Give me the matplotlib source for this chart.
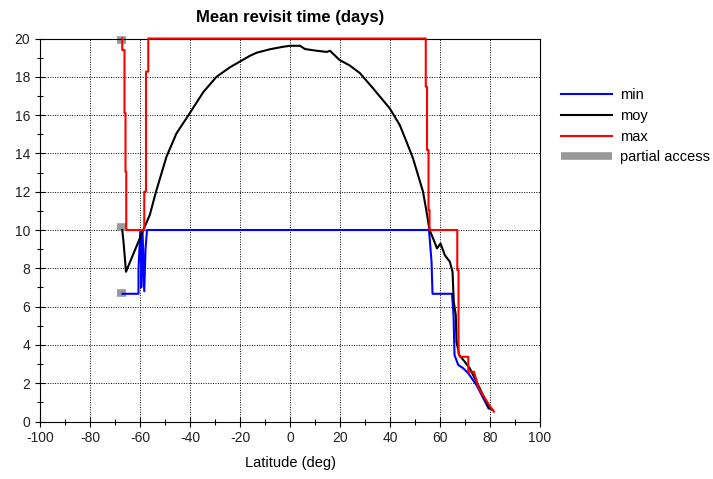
import matplotlib
matplotlib.use("Agg")
import matplotlib.pyplot as plt
from matplotlib.ticker import MultipleLocator

plt.rcParams['font.family'] = ['Liberation Sans', 'DejaVu Sans']
plt.rcParams['axes.unicode_minus'] = False

# max revisit time
lat_max = [-67.1, -67.1, -66.2, -66.2, -65.8, -65.8, -65.5, -65.5, -58.3, -58.3, -57.6, -57.6,
           -56.7, -56.7, 54.3, 54.3, 54.8, 54.8, 55.4, 55.4, 55.8, 55.8, 66.9, 66.9, 67.4, 67.4,
           68.0, 71.3, 71.3, 73.6, 75.5, 79.7, 81.6]
val_max = [20.0, 19.4, 19.4, 16.1, 16.1, 13.04, 13.04, 10.0, 10.0, 12.0, 12.0, 18.27,
           18.27, 20.0, 20.0, 17.48, 17.48, 14.18, 14.18, 11.04, 11.04, 10.0, 10.0, 7.91, 7.91, 3.56,
           3.38, 3.38, 2.6, 2.6, 1.73, 0.86, 0.51]

# min revisit time
lat_min = [-67.0, -60.6, -60.6, -60.0, -59.7, -59.5, -59.0, -58.3, -57.8, -57.2, 55.6, 56.6, 57.0,
           64.8, 65.4, 65.8, 67.3, 69.3, 71.3, 74.6, 79.4]
val_min = [6.67, 6.67, 8.0, 9.6, 10.0, 7.0, 10.0, 6.8, 9.0, 10.0, 10.0, 8.35, 6.67,
           6.67, 5.56, 3.47, 2.95, 2.78, 2.52, 1.9, 0.69]

# mean revisit time (moy)
lat_moy = [-67.1, -66.6, -65.6, -59.0, -56.1, -53.6, -49.4, -45.4, -40.1, -34.7, -29.4, -24.0,
           -20.0, -16.0, -13.3, -8.0, -2.7, 0.0, 4.0, 6.0, 10.7, 14.7, 16.0, 19.8, 23.8, 27.9,
           33.2, 39.9, 43.9, 46.6, 49.2, 51.2, 53.2, 54.6, 55.8, 57.2, 58.8, 60.2, 61.9, 63.9,
           65.0, 65.5, 66.3, 66.6, 67.7, 69.9, 71.9, 75.9, 79.7, 81.0]
val_moy = [10.0, 9.39, 7.82, 9.91, 10.78, 12.0, 13.83, 15.05, 16.1, 17.2, 18.0, 18.5,
           18.8, 19.1, 19.26, 19.44, 19.57, 19.62, 19.62, 19.45, 19.36, 19.3, 19.36, 18.88, 18.6, 18.2,
           17.4, 16.35, 15.48, 14.61, 13.74, 12.87, 12.0, 10.96, 10.0, 9.57, 9.04, 9.3, 8.69, 8.35,
           7.82, 6.26, 5.56, 4.17, 3.47, 3.12, 2.78, 1.73, 0.69, 0.6]

# partial access markers
partial_lat = [-69.2, -65.8]
partial_vals = [19.9, 10.15, 6.7]

fig = plt.figure(figsize=(7.13, 4.79), dpi=100)
ax = fig.add_axes([0.0561, 0.12, 0.7013, 0.7996])

for i, v in enumerate(partial_vals):
    ax.plot(partial_lat, [v, v], color='#999999', lw=5.5, solid_capstyle='butt', zorder=2,
            label='partial access' if i == 0 else None, clip_on=False)

ax.plot(lat_min, val_min, color='#0000ff', lw=1.5, zorder=3, label='min')
ax.plot(lat_moy, val_moy, color='black', lw=1.5, zorder=3, label='moy')
ax.plot(lat_max, val_max, color='#ff0000', lw=1.5, zorder=4, label='max', clip_on=False)

ax.set_xlim(-100, 100)
ax.set_ylim(0, 20)
ax.xaxis.set_major_locator(MultipleLocator(20))
ax.xaxis.set_minor_locator(MultipleLocator(10))
ax.yaxis.set_major_locator(MultipleLocator(2))
ax.yaxis.set_minor_locator(MultipleLocator(1))
ax.tick_params(which='major', direction='inout', length=7, width=0.8, labelsize=10,
               colors='black', labelcolor='#222222')
ax.tick_params(which='minor', direction='inout', length=4, width=0.8)
ax.grid(True, which='major', linestyle=(0, (1, 1.5)), color='black', lw=0.7)
for s in ax.spines.values():
    s.set_linewidth(0.8)

ax.set_title('Mean revisit time (days)', fontsize=12, fontweight='bold', pad=12)
ax.set_xlabel('Latitude (deg)', fontsize=10.5, labelpad=8)

h, l = ax.get_legend_handles_labels()
order = [l.index('min'), l.index('moy'), l.index('max'), l.index('partial access')]
fig.legend([h[i] for i in order], [l[i] for i in order], loc='upper left',
           bbox_to_anchor=(0.768, 0.843), frameon=False, fontsize=10.5,
           handlelength=3.5, labelspacing=0.46, handletextpad=0.55)

fig.savefig('out.png', dpi=100)
